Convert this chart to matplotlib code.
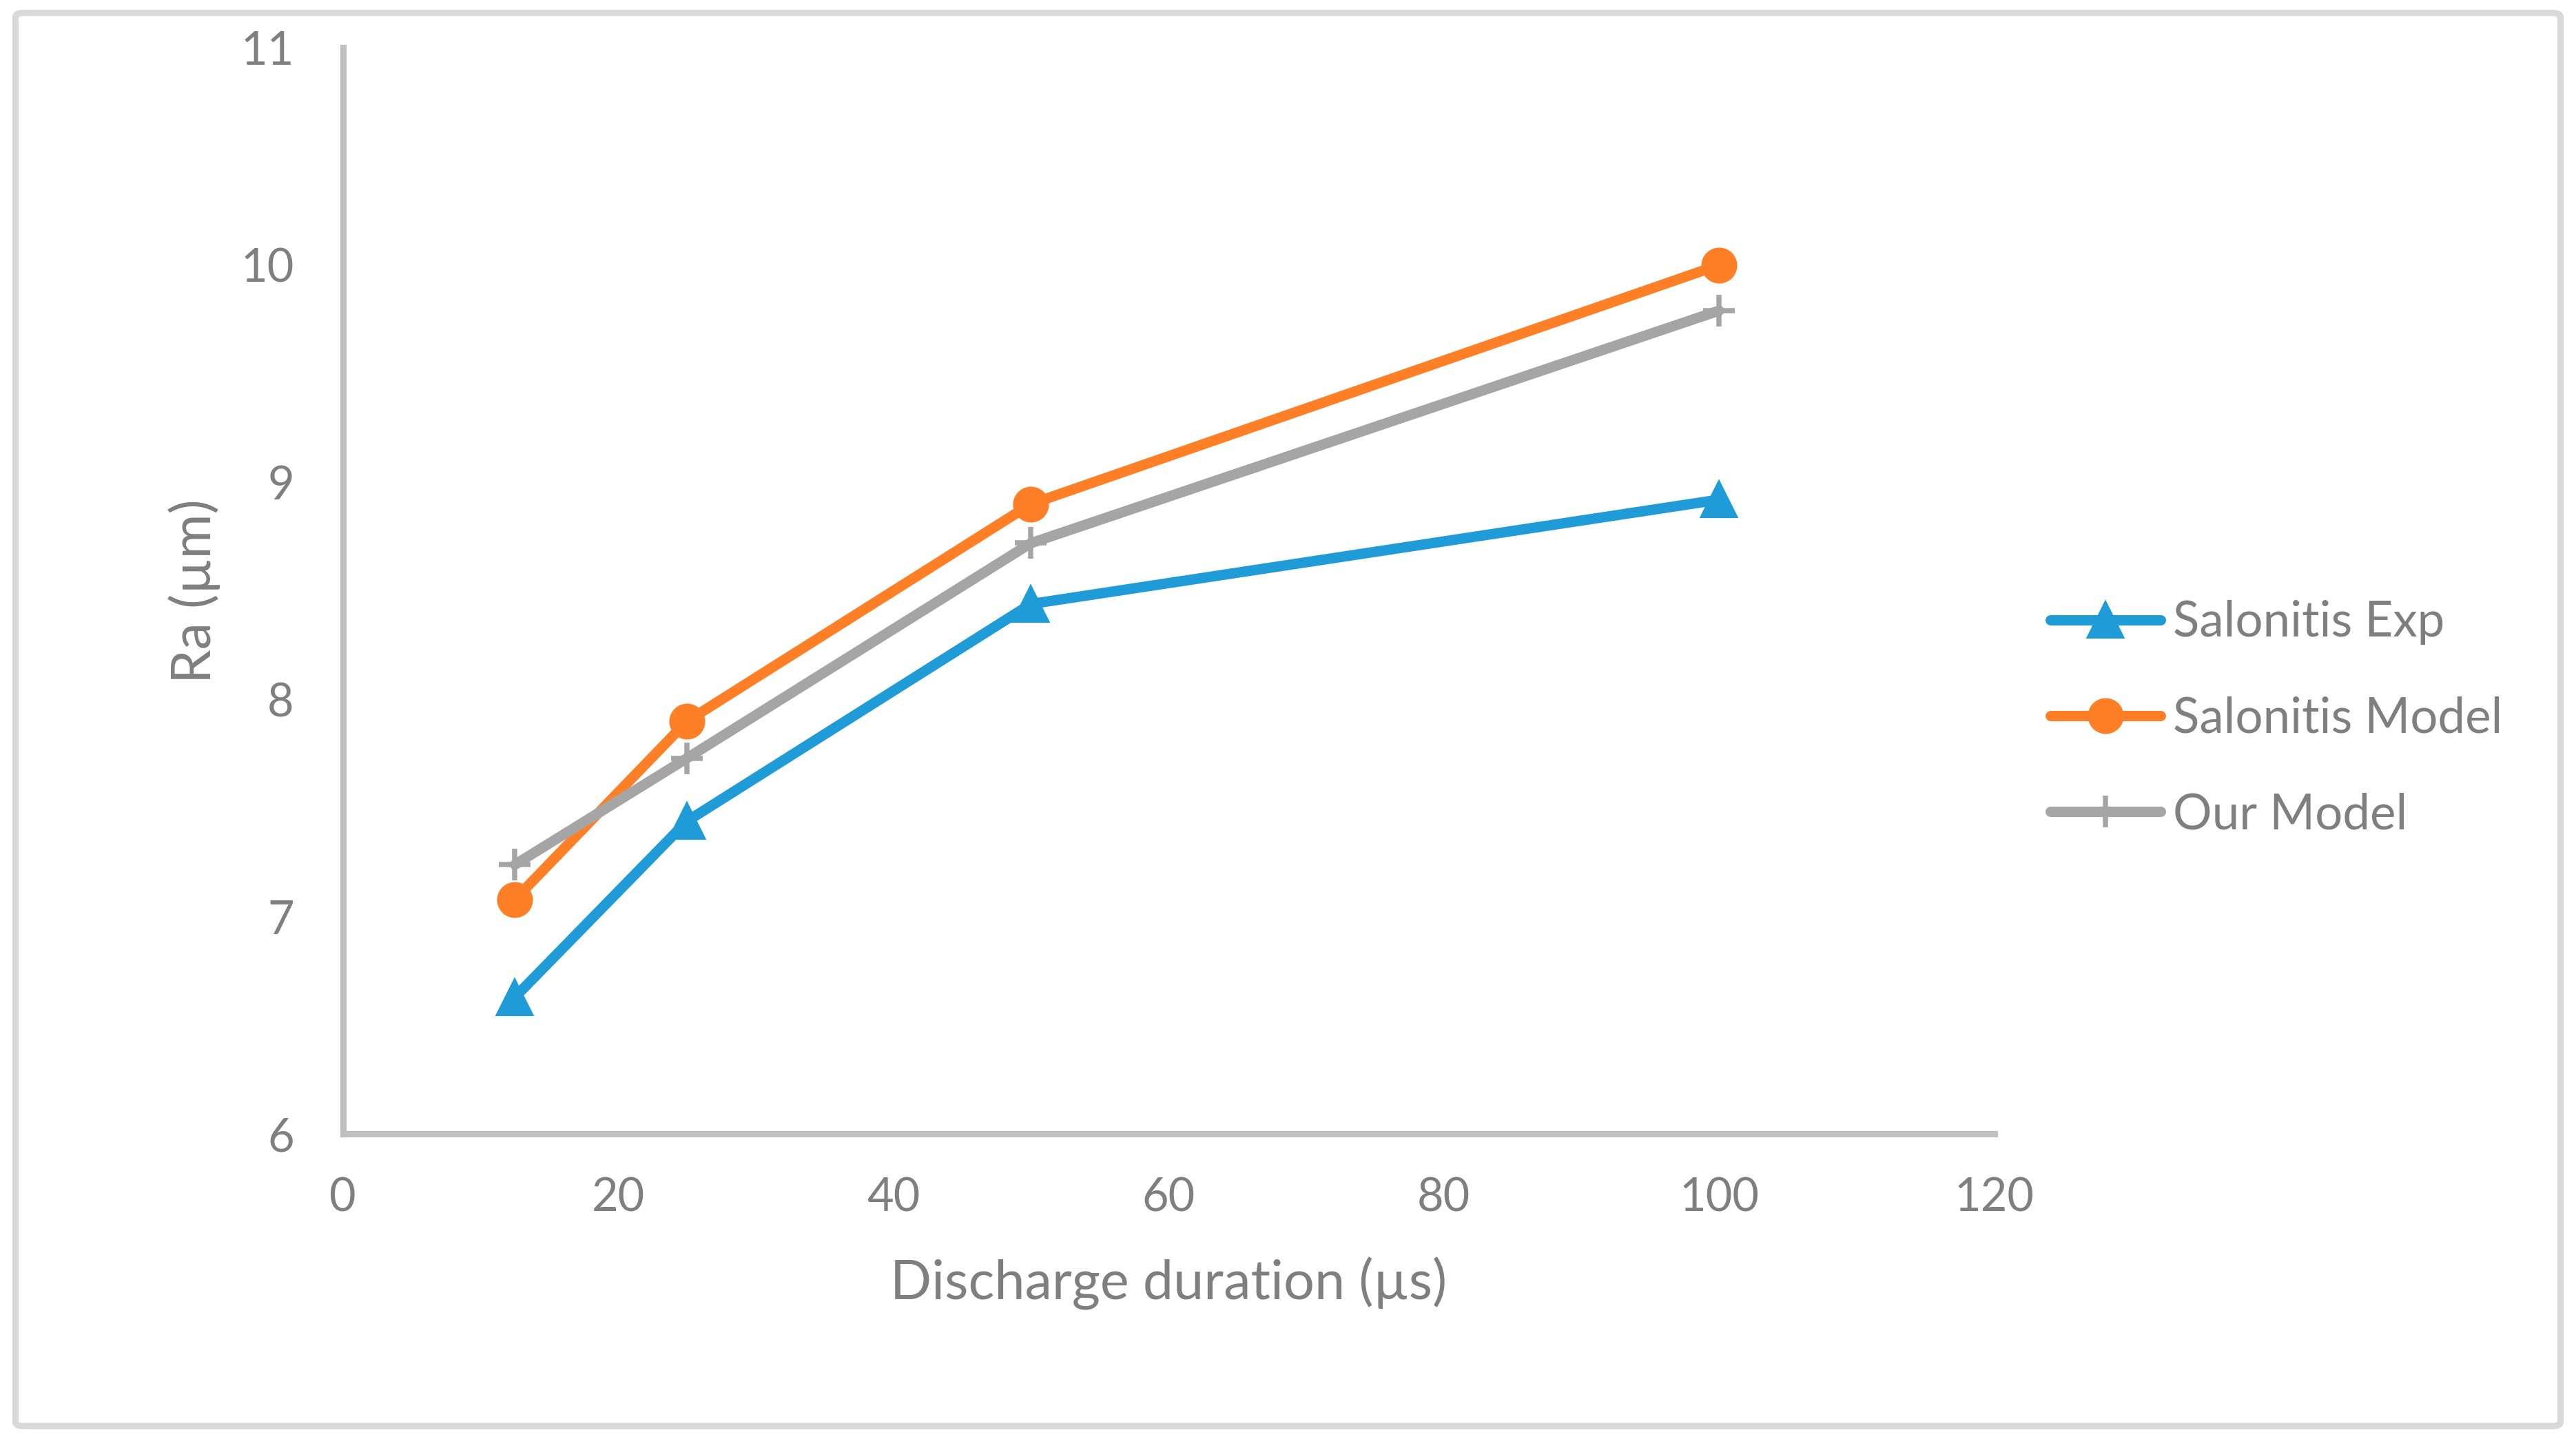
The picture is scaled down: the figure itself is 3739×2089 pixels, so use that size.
import matplotlib
matplotlib.use('Agg')
import matplotlib.pyplot as plt
from matplotlib.patches import FancyBboxPatch

# data
duration = [12.5, 25, 50, 100]
salonitis_exp = [6.63, 7.44, 8.44, 8.92]
salonitis_model = [7.08, 7.90, 8.90, 10.0]
our_model = [7.24, 7.73, 8.72, 9.79]

xticks = [0, 20, 40, 60, 80, 100, 120]
yticks = [6, 7, 8, 9, 10, 11]

grey_txt = '#7F7F7F'
plt.rcParams['font.family'] = ['Lato', 'DejaVu Sans']

fig = plt.figure(figsize=(3739 / 300, 2089 / 300), dpi=300)
ax = fig.add_axes([0.1331, 0.2119, 0.6411, 0.7549])

# outer chart border
fig.patches.append(FancyBboxPatch((0.006, 0.009), 0.988, 0.982,
                                  boxstyle='round,pad=0,rounding_size=0.003',
                                  transform=fig.transFigure, fill=False,
                                  edgecolor='#D9D9D9', linewidth=2.2))

ax.plot(duration, salonitis_exp, color='#1F9CD8', lw=3.6, marker='^', ms=12,
        solid_capstyle='round', label='Salonitis Exp', clip_on=False)
ax.plot(duration, salonitis_model, color='#FF7F27', lw=3.6, marker='o', ms=11.5,
        solid_capstyle='round', label='Salonitis Model', clip_on=False)
ax.plot(duration, our_model, color='#A5A5A5', lw=3.6, marker='+', ms=11, mew=1.8,
        solid_capstyle='round', label='Our Model', clip_on=False)

ax.set_xlim(0, 120)
ax.set_ylim(6, 11)
ax.set_xticks(xticks)
ax.set_yticks(yticks)
ax.tick_params(length=0, labelsize=16, colors=grey_txt)
ax.tick_params(axis='x', pad=15)
ax.tick_params(axis='y', pad=17)

for s in ['top', 'right']:
    ax.spines[s].set_visible(False)
for s in ['left', 'bottom']:
    ax.spines[s].set_color('#BFBFBF')
    ax.spines[s].set_linewidth(2.2)

ax.set_xlabel('Discharge duration (µs)', fontsize=19, color=grey_txt, labelpad=13)
ax.set_ylabel('Ra (µm)', fontsize=19, color=grey_txt, labelpad=7)

leg = fig.legend(loc='center left', bbox_to_anchor=(0.779, 0.5006), frameon=False,
                 fontsize=17, handlelength=2.25, labelspacing=1.05, handletextpad=0.25)
for t in leg.get_texts():
    t.set_color(grey_txt)

fig.savefig('out.png', dpi=300)
